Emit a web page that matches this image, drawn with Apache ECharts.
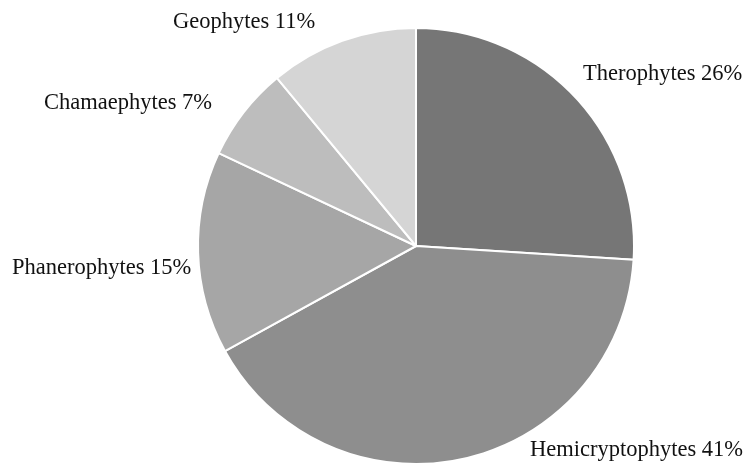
<!DOCTYPE html>
<html><head><meta charset="utf-8">
<script src="https://cdn.jsdelivr.net/npm/echarts@6/dist/echarts.min.js"></script>
<style>html,body{margin:0;padding:0;background:#fff}#c{width:751px;height:465px}</style>
</head><body><div id="c"></div>
<script>
var categories = ["Therophytes", "Hemicryptophytes", "Phanerophytes", "Chamaephytes", "Geophytes"];
var values = [26, 41, 15, 7, 11];
var colors = ["#767676", "#8e8e8e", "#a6a6a6", "#bdbdbd", "#d5d5d5"];
var labelPos = [[583, 74], [530, 450], [12, 268], [44, 103], [173, 22]];

var chart = echarts.init(document.getElementById('c'), null, {renderer: 'canvas'});
chart.setOption({
  animation: false,
  series: [{
    type: 'pie',
    center: [416, 246],
    radius: [0, 218],
    startAngle: 90,
    clockwise: true,
    itemStyle: {borderColor: '#fff', borderWidth: 2},
    label: {
      show: true,
      position: 'outside',
      overflow: 'none',
      formatter: function (p) { return p.name + ' ' + p.value + '%'; },
      fontFamily: 'Liberation Serif, Times New Roman, serif',
      fontSize: 22.5,
      color: '#111'
    },
    labelLine: {show: false},
    labelLayout: function (p) {
      var pos = labelPos[p.dataIndex];
      return {x: pos[0], y: pos[1], align: 'left', verticalAlign: 'middle', width: 300};
    },
    emphasis: {disabled: true},
    data: categories.map(function (c, i) {
      return {name: c, value: values[i], itemStyle: {color: colors[i]}};
    })
  }]
});
</script></body></html>
